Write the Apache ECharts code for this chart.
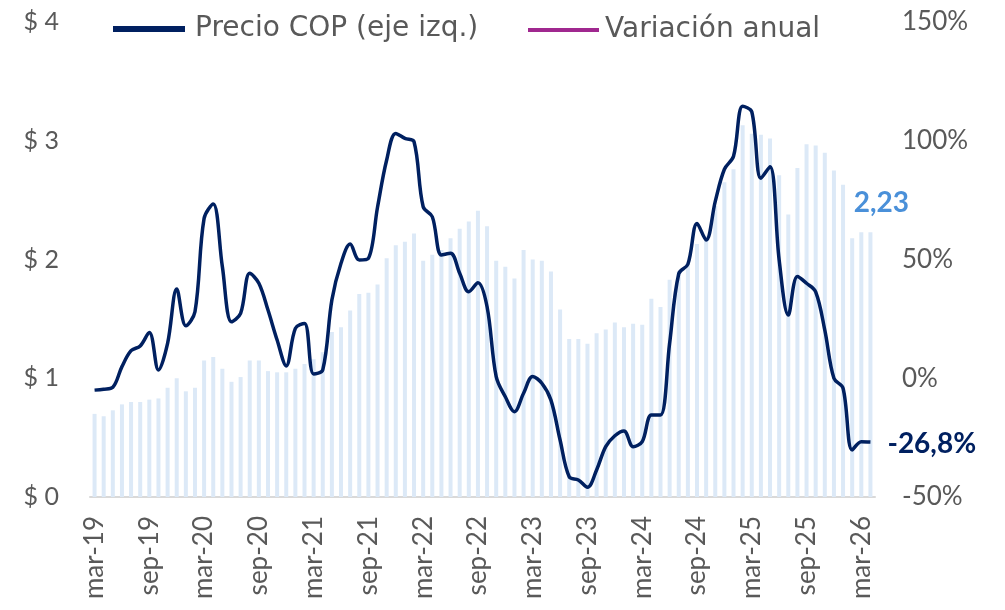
<!DOCTYPE html>
<html>
<head>
<meta charset="utf-8">
<script src="https://cdn.jsdelivr.net/npm/echarts@6/dist/echarts.min.js"></script>
<style>
  html, body { margin: 0; padding: 0; background: #fff; }
  #chart { width: 1005px; height: 610px; }
</style>
</head>
<body>
<div id="chart"></div>
<script>
// monthly, mar-19 .. abr-26
const monthNames = ["ene", "feb", "mar", "abr", "may", "jun", "jul", "ago", "sep", "oct", "nov", "dic"];
const months = [];
for (let y = 2019, m = 2; months.length < 86; m++) {
  if (m > 11) { m = 0; y++; }
  months.push(monthNames[m] + "-" + String(y).slice(2));
}

// precio COP (barras, eje izq.)
const precio = [
  0.70, 0.68, 0.73, 0.78, 0.80, 0.80, 0.82, 0.83, 0.92, 1.00, 0.89, 0.92,
  1.15, 1.18, 1.08, 0.97, 1.01, 1.15, 1.15, 1.06, 1.05, 1.05, 1.08, 1.12,
  1.16, 1.22, 1.39, 1.43, 1.57, 1.71, 1.72, 1.79, 2.01, 2.12, 2.15, 2.22,
  1.99, 2.04, 2.08, 2.18, 2.26, 2.32, 2.41, 2.28, 1.99, 1.94, 1.84, 2.08,
  2.00, 1.99, 1.90, 1.58, 1.33, 1.33, 1.29, 1.38, 1.41, 1.47, 1.43, 1.46,
  1.45, 1.67, 1.60, 1.83, 1.90, 1.97, 2.13, 2.20, 2.45, 2.65, 2.76, 3.13,
  3.06, 3.05, 3.02, 2.71, 2.38, 2.77, 2.97, 2.96, 2.90, 2.75, 2.63, 2.18,
  2.23, 2.23
];

// variacion anual % (linea, eje der.)
const variacion = [
  -5.0, -4.6, -3.8, 4.9, 11.6, 13.6, 19.3, 3.5, 14.7, 37.6, 22.1, 28.0,
  67.3, 73.4, 47.0, 23.8, 27.3, 44.2, 40.0, 28.7, 16.1, 5.2, 21.0, 23.1,
  1.8, 3.5, 33.0, 48.4, 56.5, 49.8, 50.5, 72.0, 91.9, 103.1, 101.0, 99.6,
  72.2, 68.0, 51.9, 52.6, 44.2, 36.4, 40.2, 30.1, 0.7, -7.8, -14.1, -6.3,
  0.7, -2.1, -9.2, -26.0, -41.5, -42.8, -45.9, -38.6, -28.8, -24.2, -22.2, -28.8,
  -26.7, -15.5, -15.5, 14.7, 44.0, 48.0, 65.2, 58.2, 74.5, 88.0, 93.5, 114.5,
  112.2, 84.2, 89.1, 49.8, 26.6, 42.8, 40.0, 36.4, 20.3, 0.0, -4.2, -30.2,
  -26.7, -26.8
];

const fontFamily = "Lato, 'Noto Sans', sans-serif";
const legendFont = "'DejaVu Sans', sans-serif";
const gray = "#595959";
const last = precio.length - 1;

const barData = precio.map((v, i) => i === last ? {
  value: v,
  label: {
    show: true, position: "top", distance: 5, offset: [11, -10],
    formatter: (p) => p.value.toFixed(2).replace(".", ","),
    color: "#4A90D9", fontWeight: "bold", fontSize: 28, fontFamily: fontFamily
  }
} : v);

const myChart = echarts.init(document.getElementById("chart"));
const option = {
  animation: false,
  textStyle: { fontFamily: fontFamily },
  legend: [
    {
      data: [{ name: "Precio COP (eje izq.)", icon: "rect", itemStyle: { color: "#002060" } }],
      left: 108, top: 8,
      itemWidth: 72, itemHeight: 6,
      selectedMode: false,
      textStyle: { color: gray, fontSize: 28, fontFamily: legendFont, padding: [2, 0, 0, 5], lineHeight: 30 }
    },
    {
      data: [{ name: "Variación anual", icon: "rect", itemStyle: { color: "#A0288F" } }],
      left: 523, top: 9,
      itemWidth: 71, itemHeight: 4,
      selectedMode: false,
      textStyle: { color: gray, fontSize: 28, fontFamily: legendFont, padding: [2, 0, 0, 1], lineHeight: 30 }
    }
  ],
  grid: { left: 90, right: 130, top: 22, bottom: 113 },
  xAxis: {
    type: "category",
    data: months,
    boundaryGap: true,
    axisLine: { lineStyle: { color: "#D9D9D9", width: 2 } },
    axisTick: { show: false },
    axisLabel: {
      interval: 5, rotate: 90, margin: 19,
      color: gray, fontSize: 26, fontFamily: fontFamily
    }
  },
  yAxis: [
    {
      type: "value", min: 0, max: 4, interval: 1,
      splitLine: { show: false },
      axisLine: { show: false },
      axisLabel: {
        margin: 31, color: gray, fontSize: 25, fontFamily: fontFamily,
        formatter: (v) => "$ " + v
      }
    },
    {
      type: "value", min: -50, max: 150, interval: 50,
      position: "right",
      splitLine: { show: false },
      axisLine: { show: false },
      axisLabel: {
        margin: 27, align: "left", color: gray, fontSize: 26, fontFamily: fontFamily,
        formatter: (v) => v + "%"
      }
    }
  ],
  series: [
    {
      name: "Precio COP (eje izq.)",
      type: "bar",
      yAxisIndex: 0,
      barWidth: 4,
      itemStyle: { color: "#DCE9F7" },
      data: barData,
      z: 1
    },
    {
      name: "Variación anual",
      type: "line",
      yAxisIndex: 1,
      smooth: 0.35,
      symbol: "none",
      lineStyle: { color: "#002060", width: 3.5 },
      itemStyle: { color: "#002060" },
      data: variacion,
      endLabel: {
        show: true, distance: 17, offset: [0, 2],
        formatter: (p) => p.value.toFixed(1).replace(".", ",") + "%",
        color: "#002060", fontWeight: "bold", fontSize: 28, fontFamily: fontFamily
      },
      z: 3
    }
  ]
};
myChart.setOption(option);
window.addEventListener("resize", () => {
  myChart.resize();
});
</script>
</body>
</html>
